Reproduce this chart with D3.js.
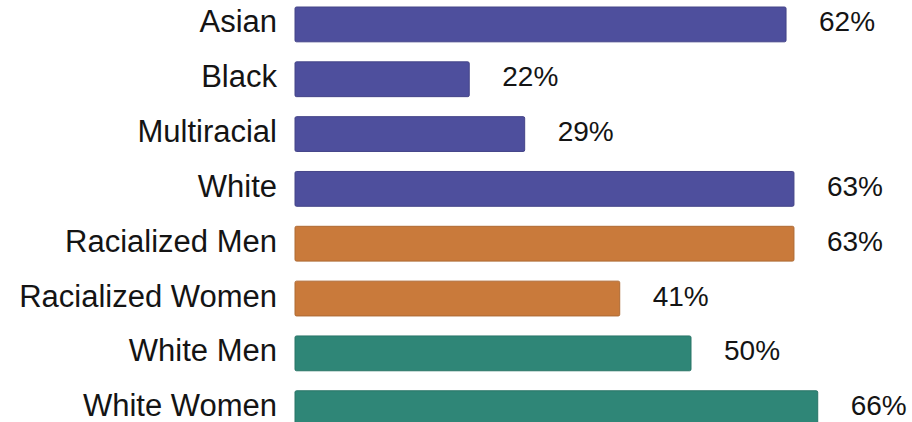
<!DOCTYPE html>
<html>
<head>
<meta charset="utf-8">
<script src="https://cdn.jsdelivr.net/npm/d3@7"></script>
<style>
  html, body { margin: 0; padding: 0; background: #ffffff; }
  svg { display: block; }
  text { font-family: "Liberation Sans", Arial, Helvetica, sans-serif; fill: #141414; }
</style>
</head>
<body>
<svg id="chart" width="912" height="422"></svg>
<script>
// Share of each group (percent)
const categories = ["Asian", "Black", "Multiracial", "White", "Racialized Men", "Racialized Women", "White Men", "White Women"];
const values = [62, 22, 29, 63, 63, 41, 50, 66];
const groups = ["race", "race", "race", "race", "racialized", "racialized", "white", "white"];
const groupNames = ["race", "racialized", "white"];
const groupColors = ["#4e4f9d", "#c97a3b", "#2f8677"];
const valueLabels = values.map(v => v + "%");

const svg = d3.select("#chart");

const x = d3.scaleLinear().domain([0, 100]).range([295, 295 + 792]);
const y = d3.scaleBand().domain(categories).range([-3, 435.6]).paddingInner(0.365).paddingOuter(0.1825);
const color = d3.scaleOrdinal().domain(groupNames).range(groupColors);

const rows = categories.map((c, i) => ({ cat: c, value: values[i], group: groups[i], label: valueLabels[i] }));

// labels sit a touch above the bar's centre line
const labelY = d => y(d.cat) + y.bandwidth() / 2 - 2.5;

svg.append("g")
  .selectAll("rect")
  .data(rows)
  .join("rect")
  .attr("x", x(0))
  .attr("y", d => y(d.cat))
  .attr("width", d => x(d.value) - x(0))
  .attr("height", y.bandwidth())
  .attr("rx", 1.5)
  .attr("fill", d => color(d.group))
  .attr("stroke", d => d3.color(color(d.group)).darker(0.4))
  .attr("stroke-width", 1);

// category names, right-aligned against the bars
svg.append("g")
  .selectAll("text")
  .data(rows)
  .join("text")
  .attr("x", 277)
  .attr("y", labelY)
  .attr("text-anchor", "end")
  .attr("dominant-baseline", "central")
  .style("font-size", "31px")
  .text(d => d.cat);

// value labels after each bar
svg.append("g")
  .selectAll("text")
  .data(rows)
  .join("text")
  .attr("x", d => x(d.value) + 33)
  .attr("y", labelY)
  .attr("dominant-baseline", "central")
  .style("font-size", "28px")
  .text(d => d.label);
</script>
</body>
</html>
